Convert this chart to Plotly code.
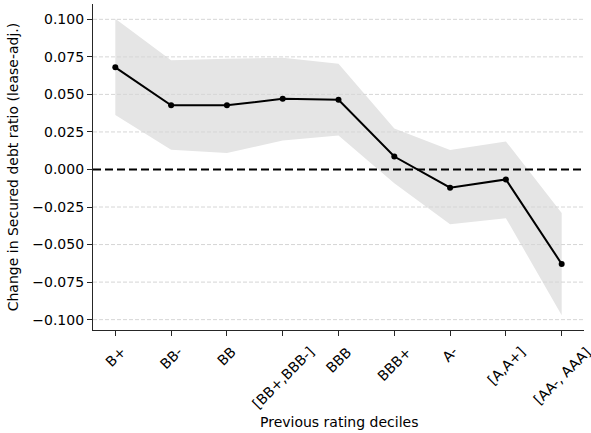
import plotly.graph_objects as go

categories = ["B+", "BB-", "BB", "[BB+,BBB-]", "BBB", "BBB+", "A-", "[A,A+]", "[AA-, AAA]"]
mean_vals = [0.068, 0.0427, 0.0427, 0.0471, 0.0464, 0.0086, -0.0121, -0.0066, -0.0629]
upper_vals = [0.1003, 0.0727, 0.0738, 0.0744, 0.0704, 0.0273, 0.0129, 0.0187, -0.029]
lower_vals = [0.0363, 0.0131, 0.0109, 0.0193, 0.0227, -0.0092, -0.0364, -0.0324, -0.097]
y_ticks = [-0.1, -0.075, -0.05, -0.025, 0.0, 0.025, 0.05, 0.075, 0.1]
x_title = "Previous rating deciles"
y_title = "Change in Secured debt ratio (lease-adj.)"

xs = list(range(len(categories)))
x_lo, x_hi = -0.4, len(categories) - 1 + 0.4
FONT = "DejaVu Sans"
FS = 14

fig = go.Figure()
# confidence band
fig.add_trace(go.Scatter(x=xs + xs[::-1], y=upper_vals + lower_vals[::-1], fill="toself",
                         fillcolor="#e5e5e5", line=dict(width=0), mode="lines",
                         hoverinfo="skip", showlegend=False))
# gridlines drawn above the band
for t in y_ticks:
    if t == 0:
        continue
    fig.add_trace(go.Scatter(x=[x_lo, x_hi], y=[t, t], mode="lines",
                             line=dict(color="#d6d6d6", width=1, dash="4px,2px"),
                             hoverinfo="skip", showlegend=False))
# zero reference line
fig.add_trace(go.Scatter(x=[x_lo, x_hi], y=[0, 0], mode="lines",
                         line=dict(color="black", width=2.2, dash="8px,4px"),
                         hoverinfo="skip", showlegend=False))
# mean line
fig.add_trace(go.Scatter(x=xs, y=mean_vals, mode="lines+markers",
                         line=dict(color="black", width=2),
                         marker=dict(color="black", size=6), showlegend=False))

# rotated x tick labels centered under ticks (matplotlib style)
for i, c in enumerate(categories):
    fig.add_annotation(x=i, y=0, xref="x", yref="paper", text=c, showarrow=False,
                       textangle=-45, xanchor="center", yanchor="top", yshift=-11,
                       font=dict(family=FONT, size=FS, color="black"))
fig.add_annotation(x=0.5, y=0, xref="paper", yref="paper", yshift=-92, text=x_title,
                   showarrow=False, xanchor="center", yanchor="middle",
                   font=dict(family=FONT, size=FS, color="black"))

fig.update_layout(
    width=591, height=433,
    margin=dict(l=93, r=7, t=4, b=103, autoexpand=False),
    plot_bgcolor="white", paper_bgcolor="white",
    font=dict(family=FONT, size=FS, color="black"),
    xaxis=dict(range=[x_lo, x_hi], tickvals=xs, showticklabels=False, automargin=False,
               showgrid=False, zeroline=False, showline=True, linecolor="#262626",
               linewidth=1.2, ticks="outside", ticklen=5, tickcolor="#262626", tickwidth=1.2),
    yaxis=dict(range=[-0.1069, 0.1102], tickvals=y_ticks, tickformat=".3f", automargin=False,
               showgrid=False, zeroline=False, showline=True, linecolor="#262626",
               linewidth=1.2, ticks="outside", ticklen=5, tickcolor="#262626", tickwidth=1.2,
               title=dict(text=y_title, standoff=10, font=dict(family=FONT, size=FS)),
               tickfont=dict(family=FONT, size=FS)),
)

fig.write_html("out.html", config={"displayModeBar": False},
               post_script="document.body.style.margin='0';")
